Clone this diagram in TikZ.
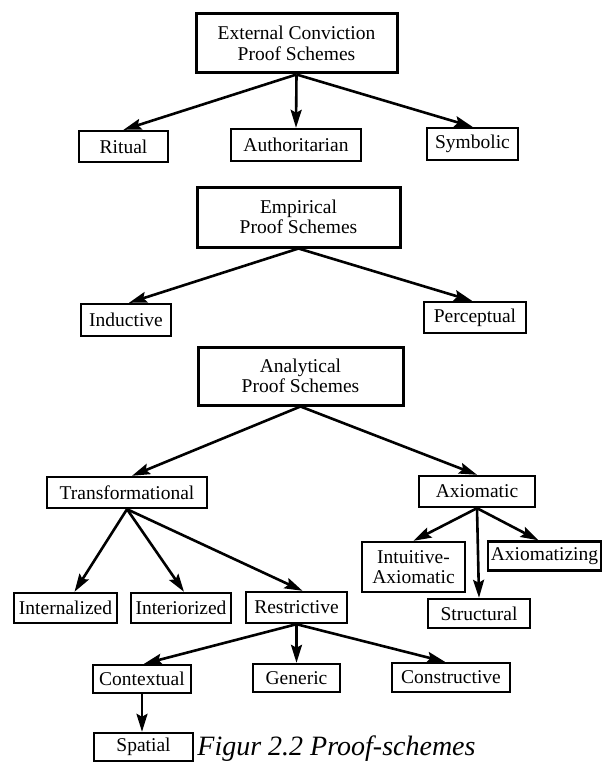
\documentclass[tikz,border=0pt]{standalone}
\usepackage{fontspec}
\setmainfont{Liberation Serif}
\usetikzlibrary{arrows.meta}

\begin{document}
\begin{tikzpicture}[x=1pt, y=-1pt, thick,
    	box/.style={draw, rectangle, line width=2.4pt, inner sep=0pt, align=center,
    		font=\fontsize{19.5}{20.5}\selectfont},
    	head box/.style={box, line width=3pt},
    	arr/.style={line width=2.6pt, -{Stealth[length=18pt,width=11pt,inset=3pt]}}]
    	
    	\useasboundingbox (0,0) rectangle (602,762);
    	
    	% external conviction
    	\node[head box, minimum width=201, minimum height=59] (ext) at (296.5,43.5) {External Conviction\\Proof Schemes};
    	\node[box, minimum width=89, minimum height=31] (ritual) at (123.5,146.5) {Ritual};
    	\node[box, minimum width=130, minimum height=32] (auth) at (296,145) {Authoritarian};
    	\node[box, minimum width=91, minimum height=32] (symb) at (472.5,144) {Symbolic};
    	
    	% empirical
    	\node[head box, minimum width=203, minimum height=60] (emp) at (298.5,217) {Empirical\\Proof Schemes};
    	\node[box, minimum width=90, minimum height=32] (induct) at (126,320) {Inductive};
    	\node[box, minimum width=102, minimum height=31] (percep) at (475,317.5) {Perceptual};
    	
    	% analytical
    	\node[head box, minimum width=205, minimum height=58] (anal) at (300.5,376) {Analytical\\Proof Schemes};
    	\node[box, minimum width=160, minimum height=31] (trans) at (127,492.5) {Transformational};
    	\node[box, minimum width=116, minimum height=31] (axiom) at (477,491.5) {Axiomatic};
    	\node[box, minimum width=103, minimum height=30] (intern) at (65.5,608) {Internalized};
    	\node[box, minimum width=100, minimum height=30] (interior) at (181,608) {Interiorized};
    	\node[box, minimum width=101, minimum height=31] (restr) at (296.5,607.5) {Restrictive};
    	\node[box, minimum width=103, minimum height=50] (intuit) at (413.5,567) {Intuitive-\\Axiomatic};
    	\node[box, minimum width=113, minimum height=29] (axzing) at (544.5,556) {Axiomatizing};
    	\node[box, minimum width=102, minimum height=29] (struct) at (479,613.5) {Structural};
    	\node[box, minimum width=98, minimum height=28] (context) at (142,679) {Contextual};
    	\node[box, minimum width=87, minimum height=28] (generic) at (296.5,678) {Generic};
    	\node[box, minimum width=118, minimum height=29] (constr) at (451,677.5) {Constructive};
    	\node[box, minimum width=99, minimum height=28] (spatial) at (143.5,747) {Spatial};
    	
    	\node[anchor=base west, inner sep=0pt, font=\fontsize{28}{30}\selectfont\itshape] (caption) at (197,755) {Figur 2.2 Proof-schemes};
    	
    	\path[arr]
    	(ext.south) edge (ritual.north)
    	(ext.south) edge (auth.north)
    	(ext.south) edge (symb.north)
    	(emp.south) edge ([xshift=3]induct.north)
    	(emp.south) edge ([xshift=-3]percep.north)
    	(anal.south) edge ([xshift=5]trans.north)
    	(anal.south) edge (axiom.north)
    	(trans.south) edge ([xshift=9]intern.north)
    	(trans.south) edge ([xshift=3]interior.north)
    	(trans.south) edge ([xshift=6]restr.north)
    	(axiom.south) edge (intuit.north)
    	(axiom.south) edge ([xshift=-6]axzing.north)
    	(axiom.south) edge (struct.north)
    	(restr.south) edge ([xshift=2]context.north)
    	(restr.south) edge (generic.north)
    	(restr.south) edge ([xshift=-6]constr.north)
    	(context.south) edge ([xshift=-1.5]spatial.north);
    	\end{tikzpicture}
\end{document}
